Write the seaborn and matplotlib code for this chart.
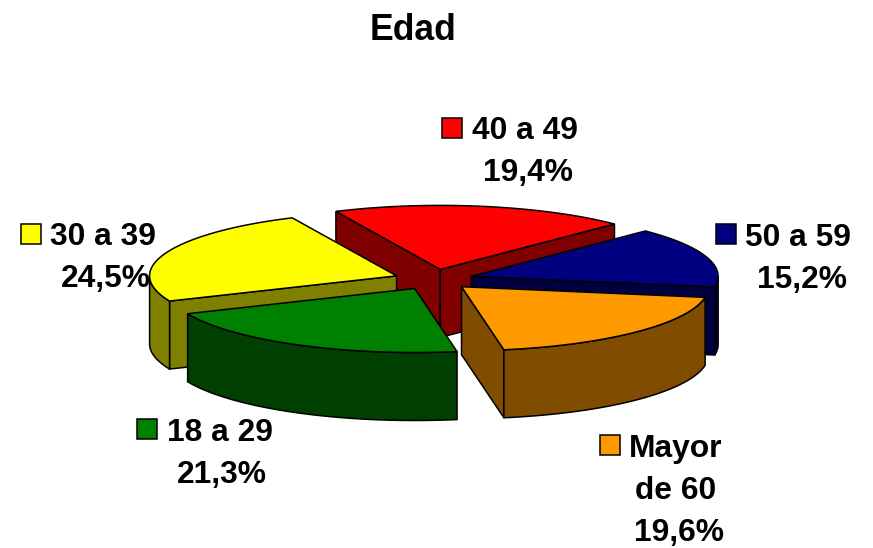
import numpy as np
import seaborn as sns
import matplotlib.pyplot as plt
from matplotlib.patches import Polygon, Rectangle

# pie values, clockwise from the first slice
categories = ["40 a 49", "50 a 59", "Mayor\nde 60", "18 a 29", "30 a 39"]
values = [19.4, 15.2, 19.6, 21.3, 24.5]
hex_colors = ["#FF0000", "#000080", "#FF9900", "#008000", "#FFFF00"]
wall_colors = ["#800000", "#000040", "#804D00", "#004000", "#808000"]

# where the label goes: key corner x, y and text centre x for each category
key_pos = [(442, 118), (716, 224), (600, 435), (137, 419), (21, 224)]
text_x = [525, 798, 676, 220, 103]
value_x = [528, 802, 679, 222, 106]
text_y = [131, 238, 449, 433, 237]

# pie geometry in pixels
CX, CY = 433.5, 279.5
RX, RY = 247, 64
DEPTH = 68
EXPLODE = 0.16
START = -25.0

sns.set_theme(style="white")
plt.rcParams["font.family"] = ["Liberation Sans", "DejaVu Sans"]
palette = sns.color_palette(hex_colors)
dark = sns.color_palette(wall_colors)

f, ax = plt.subplots(figsize=(8.73, 5.48), dpi=100)
ax.set_position([0, 0, 1, 1])
ax.set_xlim(0, 873)
ax.set_ylim(548, 0)
ax.axis("off")


def rim(cx, cy, t):
    # point on the ellipse, t in radians clockwise from the top
    return np.column_stack([cx + RX * np.sin(t), cy - RY * np.cos(t)])


# turn values into angles
edges = START + np.cumsum([0] + values) / np.sum(values) * 360
mids = (edges[:-1] + edges[1:]) / 2

# painter's order, the slices at the back first
order = np.argsort(-np.cos(np.radians(mids)))

for i in order:
    t0, t1 = np.radians(edges[i]), np.radians(edges[i + 1])
    m = np.radians(mids[i])
    cx = CX + EXPLODE * RX * np.sin(m)
    cy = CY - EXPLODE * RY * np.cos(m)
    apex = np.array([cx, cy])
    down = np.array([0, DEPTH])

    # cut faces, only when they look towards the viewer
    for t, show in [(t0, np.sin(t0) < 0), (t1, np.sin(t1) > 0)]:
        if show:
            p = rim(cx, cy, np.array([t]))[0]
            ax.add_patch(Polygon([apex, p, p + down, apex + down], closed=True,
                                 fc=dark[i], ec="black", lw=1.1))

    # outer wall, front half of the rim only
    lo, hi = max(t0, np.pi / 2), min(t1, 3 * np.pi / 2)
    if hi > lo:
        arc = rim(cx, cy, np.linspace(lo, hi, 80))
        ax.add_patch(Polygon(np.vstack([arc, (arc + down)[::-1]]), closed=True,
                             fc=dark[i], ec="black", lw=1.1))

    # top
    arc = rim(cx, cy, np.linspace(t0, t1, 120))
    ax.add_patch(Polygon(np.vstack([apex, arc]), closed=True,
                         fc=palette[i], ec="black", lw=1.1))

ax.text(413.5, 30, "Edad", ha="center", va="center", fontsize=25.6, fontweight="bold", color="black")

# labels, category next to a small key and the percentage underneath
for i, name in enumerate(categories):
    kx, ky = key_pos[i]
    ax.add_patch(Rectangle((kx, ky), 20, 20, fc=palette[i], ec="black", lw=1.1))
    lines = name.split("\n") + [f"{values[i]:.1f}%".replace(".", ",")]
    for j, line in enumerate(lines):
        x = text_x[i] if j < len(lines) - 1 else value_x[i]
        ax.text(x, text_y[i] + j * 42, line, ha="center", va="center",
                fontsize=22.9, fontweight="bold", color="black")

f.savefig("out.png", dpi=100, facecolor="white")
